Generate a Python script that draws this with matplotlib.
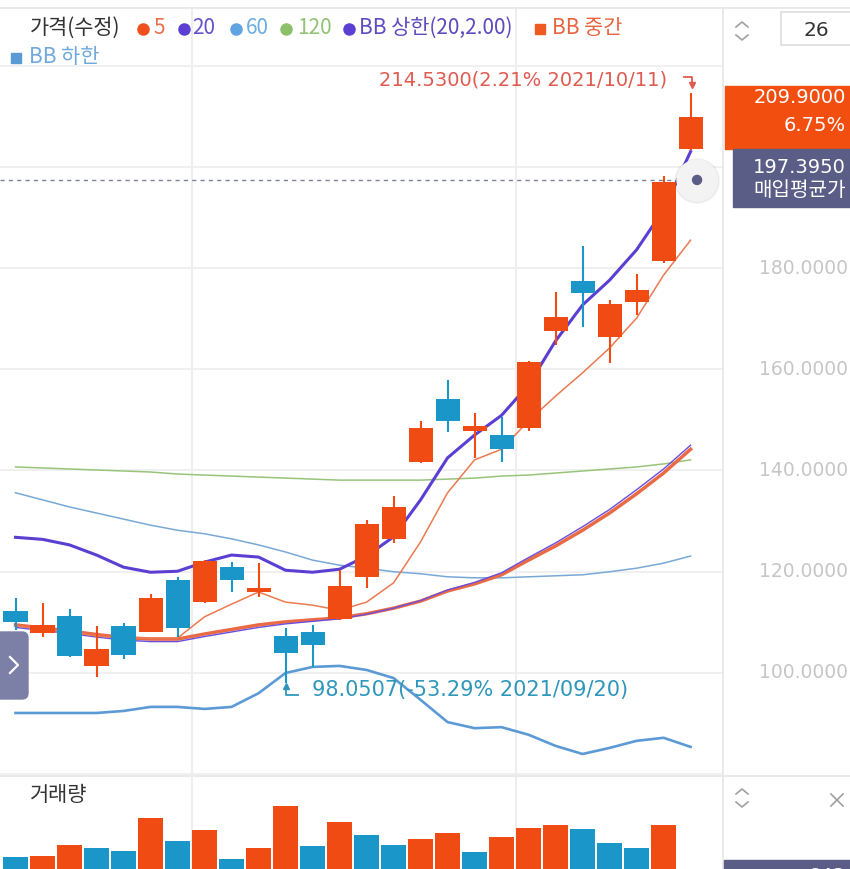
import matplotlib
matplotlib.use('Agg')
import matplotlib.pyplot as plt
from matplotlib.patches import Rectangle, FancyBboxPatch, Circle
from matplotlib.lines import Line2D
from matplotlib.transforms import Affine2D

plt.rcParams['font.family'] = ['Noto Sans CJK KR', 'DejaVu Sans']

W, H = 850, 869

# 일봉 (시가, 고가, 저가, 종가) - 그림에서 읽은 값
opens  = [112.2, 107.9, 111.2, 101.3, 109.2, 108.1, 118.3, 114.0, 120.9, 116.0, 107.3, 108.1, 110.6,
          118.9, 126.4, 141.7, 154.1, 147.8, 147.0, 148.4, 167.5, 177.4, 166.4, 173.3, 181.4, 203.5]
highs  = [114.8, 113.8, 112.6, 109.2, 109.8, 115.6, 118.9, 122.3, 121.9, 121.7, 108.9, 109.4, 120.3,
          130.2, 134.9, 149.8, 157.9, 151.3, 150.6, 161.6, 175.3, 184.3, 173.7, 178.8, 198.2, 214.53]
lows   = [108.5, 107.1, 103.1, 99.2, 102.7, 108.1, 107.1, 113.9, 116.0, 115.0, 98.0507, 101.1, 110.4,
          116.8, 125.7, 141.5, 147.6, 142.5, 141.7, 147.8, 164.8, 168.3, 161.2, 170.7, 181.0, 203.4]
closes = [110.0, 109.4, 103.3, 104.7, 103.5, 114.8, 108.9, 122.1, 118.3, 116.8, 103.9, 105.5, 117.2,
          129.4, 132.8, 148.4, 149.8, 148.8, 144.2, 161.4, 170.3, 175.1, 172.9, 175.7, 197.0, 209.9]
volumes = [430000, 440000, 550000, 520000, 490000, 810000, 590000, 700000, 410000, 520000, 930000, 540000,
           770000, 650000, 550000, 610000, 670000, 480000, 630000, 720000, 750000, 710000, 570000, 520000,
           750000, 250000]

# 이동평균 / 볼린저밴드
ma5 = [109.3, 108.7, 108.1, 107.3, 106.9, 106.9, 106.9, 111.1, 113.6, 116.0, 114.0, 113.4, 112.4,
       114.0, 117.8, 125.9, 135.6, 142.1, 144.2, 149.8, 154.7, 159.3, 164.2, 170.1, 178.6, 185.5]
ma20 = [109.0, 108.4, 107.8, 107.1, 106.5, 106.2, 106.2, 107.2, 108.1, 109.0, 109.7, 110.2, 110.7,
        111.6, 112.8, 114.3, 116.4, 117.9, 119.8, 122.8, 125.7, 128.9, 132.3, 136.2, 140.3, 145.0]
ma60 = [135.6, 134.2, 132.8, 131.6, 130.4, 129.2, 128.2, 127.5, 126.5, 125.3, 123.9, 122.3, 121.3,
        120.7, 120.0, 119.6, 119.0, 118.8, 118.8, 119.0, 119.2, 119.4, 120.0, 120.7, 121.7, 123.1]
ma120 = [140.7, 140.5, 140.3, 140.1, 139.9, 139.7, 139.3, 139.1, 138.9, 138.7, 138.5, 138.3, 138.1,
         138.1, 138.1, 138.1, 138.3, 138.5, 138.9, 139.1, 139.5, 139.9, 140.3, 140.7, 141.3, 142.1]
bb_upper = [126.8, 126.4, 125.3, 123.3, 120.9, 119.9, 120.1, 121.9, 123.3, 122.9, 120.3, 119.9, 120.5,
            123.1, 126.9, 134.2, 142.5, 147.0, 150.9, 156.9, 165.6, 172.7, 177.6, 183.6, 191.5, 203.0]
bb_mid = [109.5, 108.9, 108.3, 107.6, 107.0, 106.7, 106.7, 107.7, 108.6, 109.5, 110.1, 110.5, 110.9,
          111.7, 112.8, 114.2, 116.2, 117.6, 119.4, 122.3, 125.1, 128.2, 131.6, 135.4, 139.5, 144.2]
bb_lower = [92.1, 92.1, 92.1, 92.1, 92.5, 93.3, 93.3, 92.9, 93.3, 96.0, 100.0, 101.2, 101.4,
            100.6, 99.0, 94.7, 90.3, 89.1, 89.3, 87.8, 85.6, 84.0, 85.2, 86.6, 87.2, 85.4]

price_ticks = [100, 120, 140, 160, 180]
avg_price = 197.395
last_change = "6.75%"
high_label = "214.5300(2.21% 2021/10/11)"
low_label = "98.0507(-53.29% 2021/09/20)"
n_days = "26"

UP = '#f04b12'
DOWN = '#1a97c8'
GRID = '#eeeeee'

fig = plt.figure(figsize=(W / 100, H / 100), dpi=100)
pix = Affine2D().scale(1 / W, -1 / H).translate(0, 1) + fig.transFigure  # 픽셀 좌표 (위에서 아래로)

ax = fig.add_axes([0, 1 - 775 / H, 723 / W, 767 / H])
axv = fig.add_axes([0, 0, 723 / W, (H - 777) / H])

idx = list(range(len(closes)))
xlim = (-0.574, 26.2)

# 가격 차트
ax.plot(idx, ma120, color='#98c47a', lw=1.1, zorder=2)
ax.plot(idx, ma60, color='#78a9d6', lw=1.1, zorder=2)
ax.plot(idx, bb_lower, color='#5c9ad6', lw=1.9, zorder=2)
ax.plot(idx, bb_upper, color='#5b3fd3', lw=2.2, zorder=2)
ax.plot(idx, bb_mid, color='#ea6a45', lw=2.5, zorder=2)
ax.plot(idx, ma20, color='#6a4fdc', lw=1.0, zorder=2)
ax.plot(idx, ma5, color='#ec7a50', lw=1.1, zorder=2)

for i in idx:
    o, h, l, c = opens[i], highs[i], lows[i], closes[i]
    col = UP if c >= o else DOWN
    ax.vlines(i, l, h, color=col, lw=1.5, zorder=3)
    ax.bar(i, max(abs(c - o), 0.35), bottom=min(o, c), width=0.89, color=col, zorder=4)

ax.hlines(avg_price, xlim[0], 25.3, colors='#7d82a0', linestyles=(0, (3, 3)), lw=1, zorder=3)

ax.set_xlim(*xlim)
ax.set_ylim(79.85, 231.36)
ax.set_yticks(range(80, 221, 20))
ax.grid(axis='y', color=GRID, lw=1.2)
ax.set_axisbelow(True)
for xv in [6.55, 18.55]:
    ax.axvline(xv, color=GRID, lw=1.5, zorder=0)
    axv.axvline(xv, color=GRID, lw=1.5, zorder=0)
ax.tick_params(left=False, labelleft=False, bottom=False, labelbottom=False)
for s in ax.spines.values():
    s.set_visible(False)

# 거래량
vcols = [DOWN] + [UP if volumes[i] > volumes[i - 1] else DOWN for i in idx[1:]]
axv.bar(idx, volumes, width=0.93, color=vcols, zorder=2)
axv.set_xlim(*xlim)
axv.set_ylim(310000, 1220000)
axv.axis('off')


def data_to_px(x, y):
    dx, dy = ax.transData.transform((x, y))
    return dx, H - dy


# 테두리
fig.add_artist(Line2D([0, W], [8, 8], color='#e6e6e6', lw=1.2, transform=pix))
fig.add_artist(Line2D([0, W], [776, 776], color='#e6e6e6', lw=1.2, transform=pix))
fig.add_artist(Line2D([723, 723], [8, H], color='#e6e6e6', lw=1.2, transform=pix))

# 범례
leg = [('text', 30, '가격(수정)', '#333333'), ('o', 143, None, '#f0501e'), ('text', 153, '5', '#e8704a'),
       ('o', 184, None, '#5b3fd3'), ('text', 192, '20', '#6553c8'), ('o', 236, None, '#5fa3e0'),
       ('text', 246, '60', '#6eaee2'), ('o', 286, None, '#8cc06a'), ('text', 297, '120', '#92c277'),
       ('o', 349, None, '#5b3fd3'), ('text', 359, 'BB 상한(20,2.00)', '#5d4cbf'),
       ('s', 540, None, '#ee5a22'), ('text', 552, 'BB 중간', '#e8643e')]
for kind, x, s, col in leg:
    if kind == 'text':
        fig.text(x, 28, s, transform=pix, color=col, fontsize=15, va='center', ha='left')
    else:
        fig.add_artist(Line2D([x], [29], marker=kind, ms=8 if kind == 'o' else 6.5, color=col,
                              lw=0, transform=pix))
fig.add_artist(Line2D([16], [58], marker='s', ms=6.5, color='#5b9bd5', lw=0, transform=pix))
fig.text(29, 57, 'BB 하한', transform=pix, color='#6ea8dd', fontsize=15, va='center', ha='left')

# 오른쪽 가격 눈금
for v in price_ticks:
    _, py = data_to_px(0, v)
    fig.text(848, py, f"{v:.4f}", transform=pix, ha='right', va='center', color='#c6c6c6',
             family='DejaVu Sans', fontsize=13.5)

# 현재가 박스
_, cy = data_to_px(0, closes[-1])
fig.add_artist(Rectangle((725, cy - 31), 125, 63, color='#f24e0f', transform=pix, zorder=5))
fig.text(846, cy - 19, f"{closes[-1]:.4f}", transform=pix, ha='right', va='center', color='white',
         family='DejaVu Sans', fontsize=14, zorder=6)
fig.text(846, cy + 9, last_change, transform=pix, ha='right', va='center', color='white',
         family='DejaVu Sans', fontsize=14, zorder=6)

# 매입평균가 박스
_, ay = data_to_px(0, avg_price)
fig.add_artist(Rectangle((733, ay - 31), 117, 58, color='#5a5e87', transform=pix, zorder=5))
fig.text(846, ay - 12, f"{avg_price:.4f}", transform=pix, ha='right', va='center', color='white',
         family='DejaVu Sans', fontsize=14, zorder=6)
fig.text(846, ay + 11, '매입평균가', transform=pix, ha='right', va='center', color='white',
         fontsize=14.5, zorder=6)

# 평균가 점
dx, dy = data_to_px(25.24, avg_price)
fig.add_artist(Circle((dx, dy + 1), 22, color='#000000', alpha=0.05, transform=pix, zorder=5))
fig.add_artist(Circle((dx, dy), 20, color='#f3f3f3', transform=pix, zorder=5))
fig.add_artist(Circle((dx, dy), 4.5, color='#5a5e87', transform=pix, zorder=6))

# 최고가 표시
hx, hy = data_to_px(25, highs[25])
hc = '#df5a50'
fig.text(hx - 23, hy - 13, high_label, transform=pix, ha='right', va='center', color=hc,
         family='DejaVu Sans', fontsize=14)
fig.add_artist(Line2D([hx - 7, hx + 1.5, hx + 1.5], [hy - 16, hy - 16, hy - 9], color=hc, lw=1.3,
                      transform=pix))
fig.add_artist(Line2D([hx + 1.5], [hy - 8], marker='v', ms=4, color=hc, lw=0, transform=pix))

# 최저가 표시
lx, ly = data_to_px(10, lows[10])
lc = '#2f97bb'
fig.text(lx + 26, ly + 7, low_label, transform=pix, ha='left', va='center', color=lc,
         family='DejaVu Sans', fontsize=15)
fig.add_artist(Line2D([lx + 12, lx, lx], [ly + 12, ly + 12, ly + 4], color=lc, lw=1.3, transform=pix))
fig.add_artist(Line2D([lx], [ly + 3], marker='^', ms=4, color=lc, lw=0, transform=pix))

# 우측 상단 위젯
for y0 in (22, 35):
    d = -1 if y0 == 22 else 1
    pts_y = [y0 + 5, y0, y0 + 5] if d < 0 else [y0, y0 + 5, y0]
    fig.add_artist(Line2D([736, 742, 748], pts_y, color='#a0a0a0', lw=1.2, transform=pix))
fig.add_artist(Rectangle((781, 12), 72, 33, facecolor='white', edgecolor='#dddddd', lw=1.2,
                         transform=pix))
fig.text(816, 30, n_days, transform=pix, ha='center', va='center', color='#333333',
         family='DejaVu Sans', fontsize=14.5)

# 왼쪽 버튼
fig.add_artist(FancyBboxPatch((-8, 632), 36, 67, boxstyle='round,pad=0,rounding_size=6',
                              color='#7c80a6', transform=pix, zorder=6))
fig.add_artist(Line2D([10, 18, 10], [657, 665, 673], color='white', lw=1.6, transform=pix, zorder=7))

# 거래량 패널
fig.text(30, 795, '거래량', transform=pix, ha='left', va='center', color='#333333', fontsize=15)
for y0 in (789, 802):
    pts_y = [y0 + 5, y0, y0 + 5] if y0 == 789 else [y0, y0 + 5, y0]
    fig.add_artist(Line2D([736, 742, 748], pts_y, color='#a0a0a0', lw=1.2, transform=pix))
fig.add_artist(Line2D([831, 843], [794, 806], color='#a0a0a0', lw=1.2, transform=pix))
fig.add_artist(Line2D([831, 843], [806, 794], color='#a0a0a0', lw=1.2, transform=pix))
fig.add_artist(Rectangle((724, 860), 126, 12, color='#5a5e87', transform=pix, zorder=5))
fig.text(846, 876, '843', transform=pix, ha='right', va='center', color='white',
         family='DejaVu Sans', fontsize=14, zorder=6)

fig.savefig('out.png', dpi=100)
